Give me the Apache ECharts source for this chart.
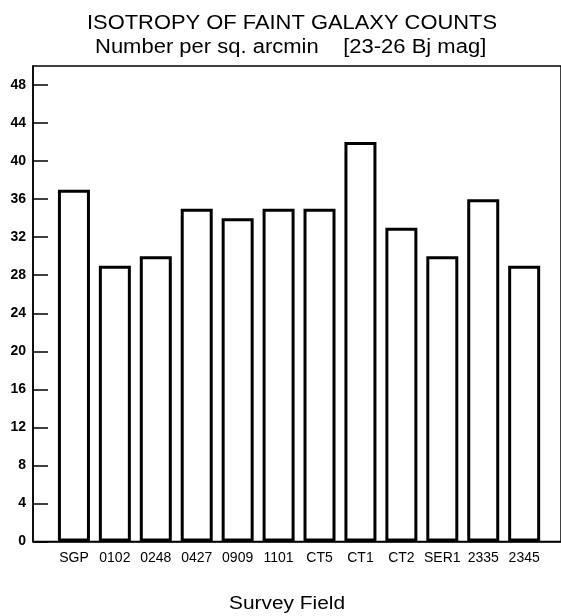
<!DOCTYPE html>
<html>
<head>
<meta charset="utf-8">
<script src="https://cdn.jsdelivr.net/npm/echarts@6/dist/echarts.min.js"></script>
<style>
html,body{margin:0;padding:0;background:#fff;}
#chart{width:561px;height:616px;}
</style>
</head>
<body>
<div id="chart"></div>
<script>
const categories = ['SGP','0102','0248','0427','0909','1101','CT5','CT1','CT2','SER1','2335','2345'];
const counts = [37,29,30,35,34,35,35,42,33,30,36,29];
const titleText = 'ISOTROPY OF FAINT GALAXY COUNTS';
const subtitleText = 'Number per sq. arcmin    [23-26 Bj mag]';
const xAxisTitle = 'Survey Field';

const chart = echarts.init(document.getElementById('chart'), null, {renderer:'canvas'});
const fontFam = '"Liberation Sans", Arial, Helvetica, sans-serif';
function label(text, x, y, size, sx){
  return {type:'text', x:x, y:y, scaleX:sx, scaleY:1, z:10,
    style:{text:text, font:size+'px '+fontFam, fill:'#000', textAlign:'left', textVerticalAlign:'middle'}};
}
chart.setOption({
  backgroundColor:'#fff',
  animation:false,
  graphic:[
    label(titleText, 87, 23, 20, 1.095),
    label(subtitleText, 95, 47, 20, 1.10),
    label(xAxisTitle, 229, 604, 18, 1.16)
  ],
  grid:{left:33, right:-2, top:66, bottom:74.5, show:true, borderColor:'#000', borderWidth:1.5, backgroundColor:'transparent'},
  xAxis:{
    type:'value', min:-1, max:11.9, interval:1,
    axisLine:{show:true, onZero:false, lineStyle:{color:'#000', width:1.5}},
    axisTick:{show:false},
    splitLine:{show:false},
    axisLabel:{
      showMaxLabel:false, showMinLabel:false,
      margin:10, color:'#000', fontFamily:fontFam, fontSize:14,
      formatter:function(v){ return Number.isInteger(v) && categories[v] !== undefined ? categories[v] : ''; }
    }
  },
  yAxis:{
    type:'value', min:0, max:50, interval:4,
    axisLine:{show:true, onZero:false, lineStyle:{color:'#000', width:1.5}},
    axisTick:{show:true, inside:true, length:15, lineStyle:{color:'#000', width:1.5}},
    splitLine:{show:false},
    axisLabel:{showMaxLabel:false, margin:7, color:'#000', fontFamily:fontFam, fontSize:14, fontWeight:'bold'}
  },
  series:[{
    type:'bar',
    data:counts.map(function(v,i){return [i,v];}),
    barWidth:32,
    itemStyle:{color:'#fff', borderColor:'#000', borderWidth:3}
  }]
});
</script>
</body>
</html>
